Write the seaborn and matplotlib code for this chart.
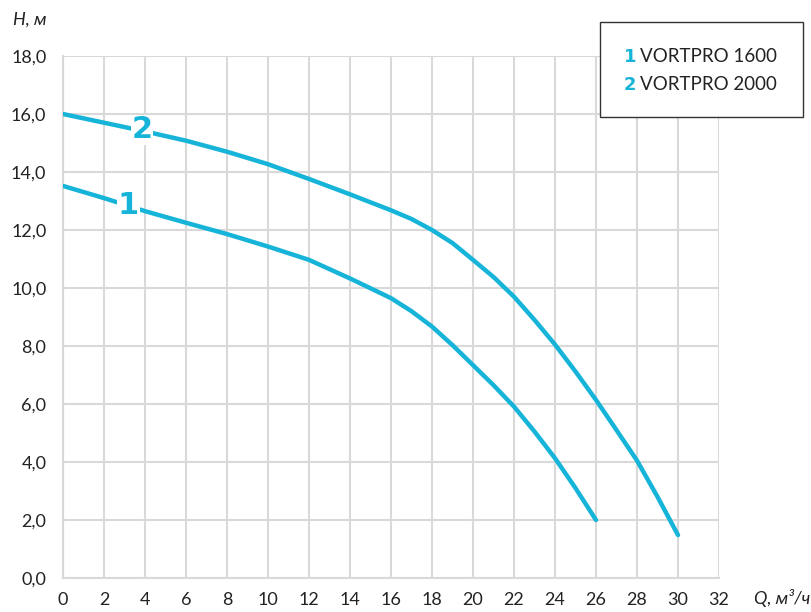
import matplotlib
matplotlib.use("Agg")
import matplotlib.pyplot as plt
import seaborn as sns
import pandas as pd
from matplotlib.patches import Rectangle

sns.set_theme(style="white")
plt.rcParams['font.family'] = ['Lato', 'DejaVu Sans']

# Data
q1 = [0, 2, 4, 6, 8, 10, 12, 14, 16, 17, 18, 19, 20, 21, 22, 23, 24, 25, 26]
h1 = [13.52, 13.1, 12.65, 12.25, 11.86, 11.43, 10.97, 10.33, 9.65, 9.2, 8.67, 8.03, 7.34, 6.65, 5.91, 5.05, 4.13, 3.1, 2.0]
q2 = [0, 2, 4, 6, 8, 10, 12, 14, 16, 17, 18, 19, 20, 21, 22, 23, 24, 25, 26, 27, 28, 29, 30]
h2 = [16.0, 15.7, 15.4, 15.08, 14.7, 14.27, 13.76, 13.23, 12.68, 12.38, 12.0, 11.55, 10.97, 10.38, 9.7, 8.9, 8.05, 7.12, 6.14, 5.1, 4.05, 2.8, 1.48]
series_names = ["VORTPRO 1600", "VORTPRO 2000"]
x_ticks = list(range(0, 33, 2))
y_ticks = list(range(0, 19, 2))

color = "#16b4d9"
grid_c = "#d9d9d9"

df = pd.concat([
    pd.DataFrame({"Q": q1, "H": h1, "s": "1"}),
    pd.DataFrame({"Q": q2, "H": h2, "s": "2"}),
])

fig = plt.figure(figsize=(8.11, 6.12), dpi=100)
ax = fig.add_axes([63/811, 34/612, (719-63)/811, (578-56)/612])

sns.lineplot(data=df, x="Q", y="H", units="s", estimator=None, color=color,
             linewidth=3.2, ax=ax, sort=False, legend=False, zorder=3)
for ln in ax.get_lines():
    ln.set_solid_joinstyle("round")
    ln.set_solid_capstyle("round")

ax.set_xlim(0, 32)
ax.set_ylim(0, 18)
ax.set_xticks(x_ticks)
ax.set_yticks(y_ticks)
ax.set_xticklabels([str(t) for t in x_ticks])
ax.set_yticklabels([f"{t:.1f}".replace(".", ",") for t in y_ticks])
ax.grid(True, color=grid_c, linewidth=1.5)
ax.set_axisbelow(True)
for s in ["top", "right"]:
    ax.spines[s].set_visible(False)
for s in ["left", "bottom"]:
    ax.spines[s].set_color(grid_c)
    ax.spines[s].set_linewidth(1.5)
ax.tick_params(axis="x", which="major", length=6, color=grid_c, width=1.5,
               labelsize=13, labelcolor="#222222", pad=4)
ax.tick_params(axis="y", which="major", length=0, labelsize=13,
               labelcolor="#222222", pad=12)
ax.set_xlabel("")
ax.set_ylabel("")

# Curve labels
for xl, yl, t in [(3.2, 12.86, "1"), (3.85, 15.45, "2")]:
    ax.text(xl, yl, t, color=color, fontsize=22, fontweight="bold",
            family=["DejaVu Sans"],
            ha="center", va="center", zorder=4,
            bbox=dict(facecolor="white", edgecolor="none", pad=0.5))

# Axis titles
fig.text(30/811, 1 - 20/612, "H, м", fontsize=13, style="italic",
         ha="center", va="center", color="#222222")
fig.text(782/811, 1 - 598/612, "Q, м³/ч", fontsize=13, style="italic",
         ha="center", va="center", color="#222222")

# Legend box
fig.patches.append(Rectangle((600/811, 1 - 117/612), 203/811, 95/612,
                             transform=fig.transFigure, facecolor="white",
                             edgecolor="#333333", linewidth=1.0))
for i, (num, name) in enumerate(zip(["1", "2"], series_names)):
    y = 1 - (57 + i * 28) / 612
    fig.text(624/811, y, num, fontsize=13, color=color, ha="left", va="center",
             fontweight="bold", family=["DejaVu Sans"])
    fig.text(640/811, y, name, fontsize=13.5, color="#222222", ha="left", va="center")

fig.savefig("out.png", dpi=100)
